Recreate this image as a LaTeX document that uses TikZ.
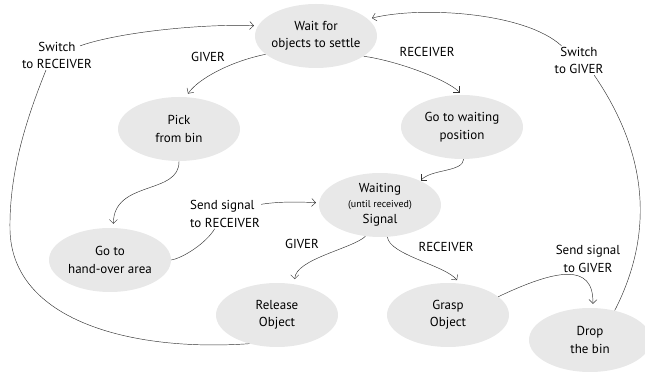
\documentclass[tikz,border=0pt]{standalone}
\usepackage{fontspec}
\setmainfont{PT Sans}
\usetikzlibrary{shapes.geometric,arrows.meta,calc}
\definecolor{ellfill}{RGB}{232,232,232}
\definecolor{linec}{RGB}{50,50,50}
\newcommand\mysz{\fontsize{13}{17.5}\selectfont}
\begin{document}
\begin{tikzpicture}[x=1pt,y=1pt,
  state/.style={ellipse, fill=ellfill, minimum width=122pt, minimum height=64pt, inner sep=-25pt, align=center, font=\mysz},
  lbl/.style={align=center, font=\mysz, inner sep=1pt},
  conn/.style={draw=linec, line width=0.45pt},
  arr/.style={conn, -{Straight Barb[length=4pt,width=8pt]}, shorten >=4pt}]
\useasboundingbox (0,0) rectangle (645,372);
% states
\node[state] (wait)   at (316,336) {Wait for\\objects to settle};
\node[state] (pick)   at (179,243) {Pick\\from bin};
\node[state] (gowait) at (462,245) {Go to waiting\\position};
\node[state] (sig)    at (380,167) {Waiting\\[-3pt]{\fontsize{10}{12}\selectfont (until received)}\\[-1pt]Signal};
\node[state] (hand)   at (110,112) {Go to\\hand-over area};
\node[state] (rel)    at (277,57)  {Release\\Object};
\node[state] (grasp)  at (448,57)  {Grasp\\Object};
\node[state] (drop)   at (590,32)  {Drop\\the bin};
% labels
\node[lbl] (swR)    at (57,316.5) {Switch\\to RECEIVER};
\node[lbl] (giverT) at (208,315)  {GIVER};
\node[lbl] (recvT)  at (427,320)  {RECEIVER};
\node[lbl] (swG)    at (579,311.5) {Switch\\to GIVER};
\node[lbl, align=left] (sendR) at (225,158) {Send signal\\to RECEIVER};
\node[lbl] (giverB) at (302,128)  {GIVER};
\node[lbl] (recvB)  at (446,125)  {RECEIVER};
\node[lbl] (sendG)  at (588,113)  {Send signal\\to GIVER};
% connectors
\draw[conn] (rel.226) .. controls (130,20) and (12,52) .. (10,142) .. controls (9,202) and (28,257) .. (swR.233);
\draw[arr] ($(swR.north east)+(-13,-5)$) .. controls +(40,14) and +(-55,2) .. (wait.170);
\draw[arr] (wait.200) .. controls +(-35,-7) and +(12,18) .. (pick.78);
\draw[arr] (wait.337) .. controls +(35,-5) and +(-15,15) .. (gowait.90);
\draw[conn] (drop.50) .. controls (660,150) and (640,230) .. (swG.316);
\draw[arr] (swG.140) .. controls (525,360) and (420,366) .. (wait.18);
\draw[arr] (pick.270) .. controls +(1,-34) and +(0,48) .. (hand.84);
\draw[conn] (hand.0) .. controls +(12,2) and +(-8,-14) .. (sendR.235);
\draw[arr, shorten >=3pt] (sendR.15) .. controls +(18,3) and +(-18,1) .. (sig.178);
\draw[arr, shorten >=1pt] (gowait.273) .. controls +(-1,-13) and +(12,12) .. (sig.31);
\draw[arr, shorten >=5pt] (sig.245) .. controls +(-12,-12) and +(0,25) .. (rel.60);
\draw[arr] (sig.283) .. controls +(2,-18) and +(-14,18) .. (grasp.70);
\draw[arr] (grasp.20) .. controls +(57,27) and +(1,46) .. (drop.85);
\end{tikzpicture}
\end{document}
